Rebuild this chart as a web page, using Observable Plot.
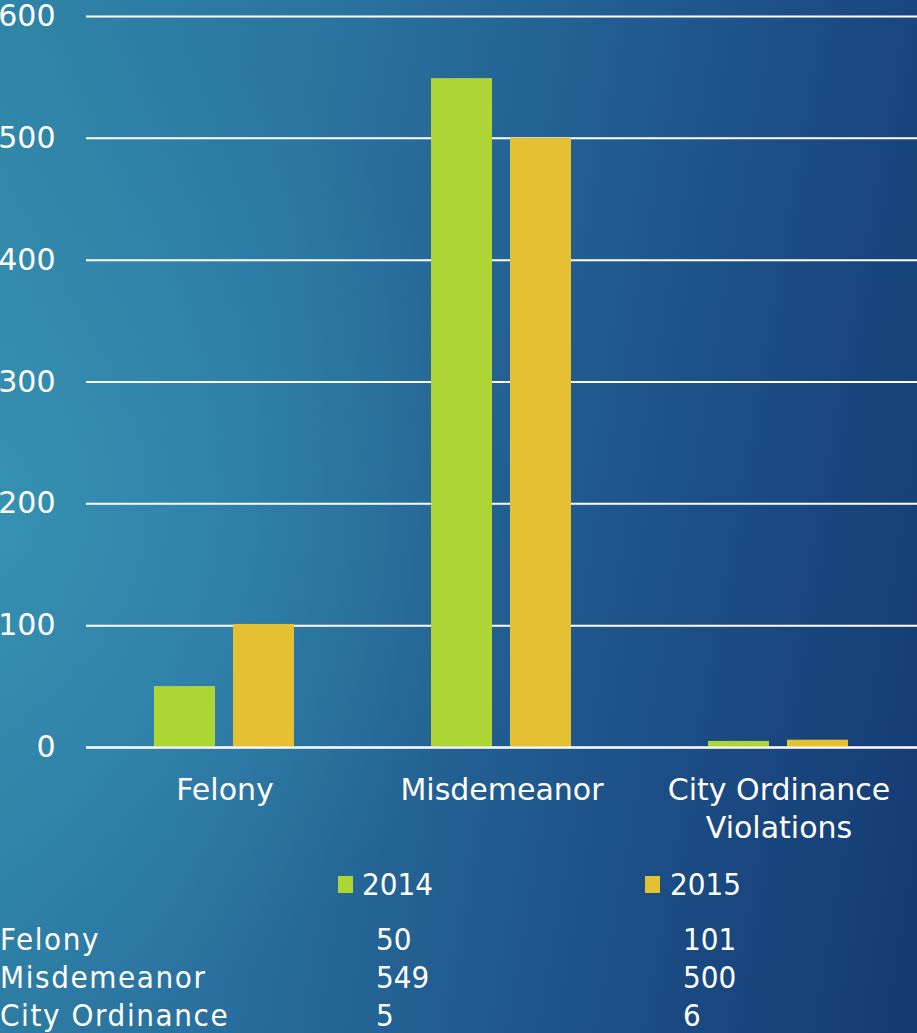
<!DOCTYPE html>
<html>
<head>
<meta charset="utf-8">
<script src="https://cdn.jsdelivr.net/npm/d3@7"></script>
<script src="https://cdn.jsdelivr.net/npm/@observablehq/plot@0.6"></script>
<style>
  html, body { margin: 0; padding: 0; }
  body {
    width: 917px; height: 1033px; overflow: hidden; position: relative;
    background:
      radial-gradient(ellipse 55% 50% at 0% 50%, rgba(60,158,188,0.55) 0%, rgba(60,158,188,0) 100%),
      linear-gradient(100deg, #2f85a7 0%, #2a74a0 30%, #205a8e 60%, #1a4880 80%, #133a72 100%);
    font-family: "DejaVu Sans", sans-serif;
    color: white;
  }
  #chart { position: absolute; left: 0; top: 0; }
  .cond { font-family: "DejaVu Sans Condensed", "DejaVu Sans", sans-serif; font-size: 31px; position: absolute; line-height: 1; white-space: nowrap; color: #fff; }
  .lbl { letter-spacing: 1.6px; }
  .sw { position: absolute; width: 15px; height: 17px; }
</style>
</head>
<body>
<div id="chart"></div>
<div id="extras"></div>
<script>
const categories = ["Felony", "Misdemeanor", "City Ordinance Violations"];
const categoryLabels = ["Felony", "Misdemeanor", "City Ordinance\nViolations"];
const tableLabels = ["Felony", "Misdemeanor", "City Ordinance"];
const series = ["2014", "2015"];
const values2014 = [50, 549, 5];
const values2015 = [101, 500, 6];
const yTicks = [0, 100, 200, 300, 400, 500, 600];
const colors = ["#add533", "#e5c033"];

const data = categories.flatMap((c, i) => [
  {category: c, series: series[0], value: values2014[i]},
  {category: c, series: series[1], value: values2015[i]}
]);

const chart = Plot.plot({
  width: 917,
  height: 850,
  marginTop: 16,
  marginBottom: 103,
  marginLeft: 86,
  marginRight: 0,
  style: {background: "transparent", color: "white", fontFamily: "DejaVu Sans, sans-serif", fontSize: "30px", overflow: "visible"},
  fx: {domain: categories, padding: 0, label: null},
  x: {domain: series, paddingInner: 0.225, paddingOuter: 0.844, axis: null},
  y: {domain: [0, 600], label: null},
  color: {domain: series, range: colors},
  marks: [
    Plot.gridY(yTicks, {stroke: "white", strokeOpacity: 1, strokeWidth: 2}),
    Plot.axisY(yTicks, {tickSize: 0, tickPadding: 31, label: null, fontSize: 30, fill: "white"}),
    Plot.axisFx({anchor: "bottom", tickSize: 0, tickPadding: 25, label: null, fontSize: 30, lineHeight: 1.28, fill: "white",
      tickFormat: c => categoryLabels[categories.indexOf(c)]}),
    Plot.barY(data, {fx: "category", x: "series", y: "value", fill: "series"}),
    Plot.ruleY([0], {stroke: "white", strokeWidth: 2})
  ]
});
document.getElementById("chart").appendChild(chart);

// legend and data table
const extras = document.getElementById("extras");
const legendX = [338, 645];
const textX = [362, 670];
const colX = [0, 376, 683];
const rowY = [940, 978, 1016];
series.forEach((s, i) => {
  const sw = document.createElement("div");
  sw.className = "sw";
  sw.style.left = legendX[i] + "px";
  sw.style.top = "876px";
  sw.style.background = colors[i];
  extras.appendChild(sw);
  const t = document.createElement("div");
  t.className = "cond";
  t.textContent = s;
  t.style.left = textX[i] + "px";
  t.style.top = (885 - 16) + "px";
  extras.appendChild(t);
});
const cols = [tableLabels, values2014, values2015];
cols.forEach((col, ci) => {
  col.forEach((v, ri) => {
    const t = document.createElement("div");
    t.className = ci === 0 ? "cond lbl" : "cond";
    t.textContent = String(v);
    t.style.left = colX[ci] + "px";
    t.style.top = (rowY[ri] - 16) + "px";
    extras.appendChild(t);
  });
});
</script>
</body>
</html>
